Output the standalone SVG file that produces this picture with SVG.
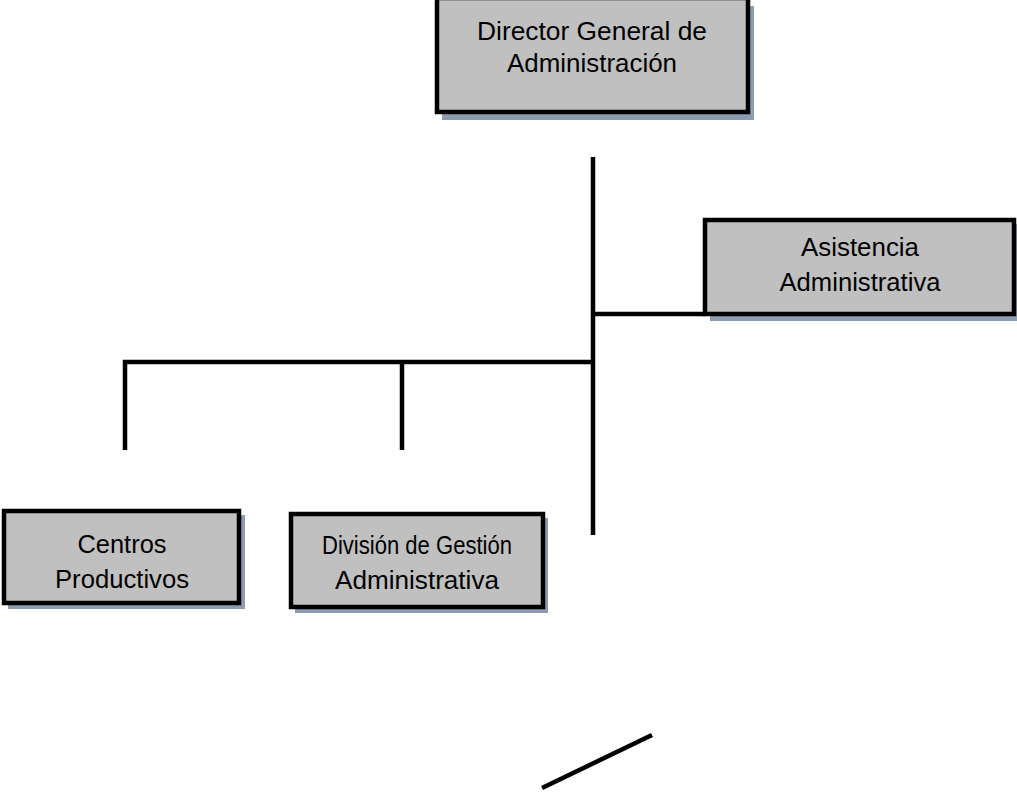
<svg xmlns="http://www.w3.org/2000/svg" width="1017" height="792" viewBox="0 0 1017 792">
<style>
.sh{fill:#8e9cb2}
.bx{fill:#c0c0c0;stroke:#000;stroke-width:4.5}
.t{font-family:"Liberation Sans",Arial,sans-serif;font-size:25px;fill:#000;text-anchor:middle}
.ln{stroke:#000;stroke-width:4.5;fill:none}
</style>
<rect width="1017" height="792" fill="#fff"/>
<g id="connectors">
<line class="ln" x1="593" y1="157" x2="593" y2="535"/>
<line class="ln" x1="593" y1="314" x2="705" y2="314"/>
<line class="ln" x1="123" y1="362" x2="593" y2="362"/>
<line class="ln" x1="125" y1="360" x2="125" y2="450"/>
<line class="ln" x1="402" y1="362" x2="402" y2="450"/>
<line class="ln" x1="542" y1="788" x2="652" y2="735"/>
</g>
<g id="director">
<rect class="sh" x="442" y="6" width="312" height="114"/>
<rect class="bx" x="437" y="-2" width="311" height="114"/>
<text class="t" x="592" y="40" textLength="230" lengthAdjust="spacingAndGlyphs">Director General de</text>
<text class="t" x="592" y="72" textLength="170" lengthAdjust="spacingAndGlyphs">Administración</text>
</g>
<g id="asistencia">
<rect class="sh" x="710" y="224" width="307" height="97"/>
<rect class="bx" x="705" y="220" width="309" height="94"/>
<text class="t" x="860" y="256" textLength="118" lengthAdjust="spacingAndGlyphs">Asistencia</text>
<text class="t" x="860" y="291" textLength="161" lengthAdjust="spacingAndGlyphs">Administrativa</text>
</g>
<g id="centros">
<rect class="sh" x="8" y="515" width="237" height="94"/>
<rect class="bx" x="4" y="511" width="235" height="92"/>
<text class="t" x="122" y="553" textLength="89" lengthAdjust="spacingAndGlyphs">Centros</text>
<text class="t" x="122" y="588" textLength="134" lengthAdjust="spacingAndGlyphs">Productivos</text>
</g>
<g id="division">
<rect class="sh" x="295" y="518" width="253" height="95"/>
<rect class="bx" x="291" y="514" width="252" height="93"/>
<text class="t" x="417" y="554" font-size="23" textLength="190" lengthAdjust="spacingAndGlyphs">División de Gestión</text>
<text class="t" x="417" y="589" textLength="164" lengthAdjust="spacingAndGlyphs">Administrativa</text>
</g>
</svg>
